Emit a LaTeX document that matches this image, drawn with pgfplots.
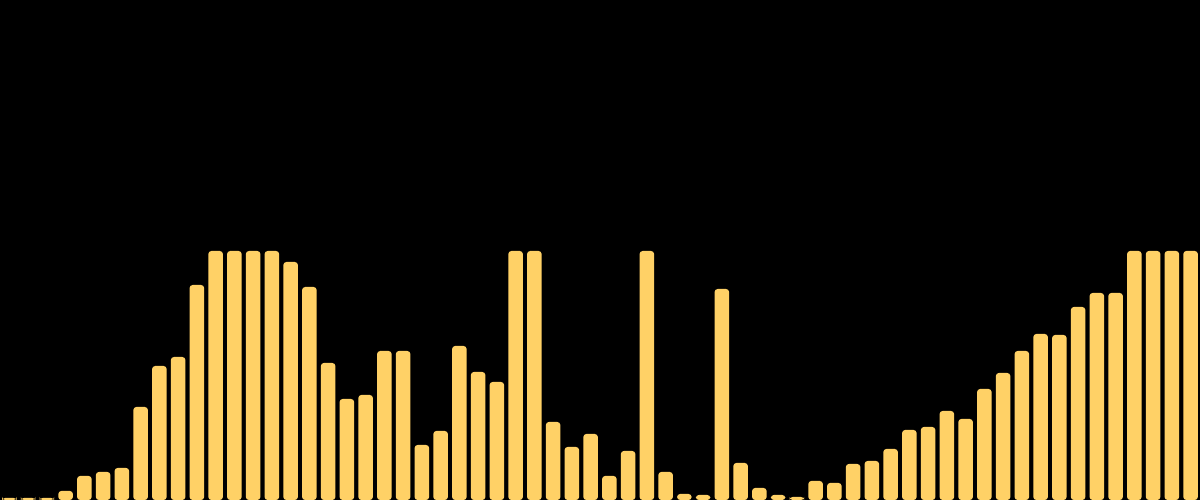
\documentclass[border=0pt]{standalone}
\usepackage{pgfplots}
\usepackage{pgfplotstable}
\pgfplotsset{compat=1.18}
\definecolor{baryellow}{RGB}{255,209,102}
\pgfplotstableread{
i h
0 2
1 2
2 2
3 9
4 24
5 28
6 32
7 93
8 134
9 143
10 215
11 249
12 249
13 249
14 249
15 238
16 213
17 137
18 101
19 105
20 149
21 149
22 55
23 69
24 154
25 128
26 118
27 249
28 249
29 78
30 53
31 66
32 24
33 49
34 249
35 28
36 6
37 5
38 211
39 37
40 12
41 5
42 3
43 19
44 17
45 36
46 39
47 51
48 70
49 73
50 89
51 81
52 111
53 127
54 149
55 166
56 165
57 193
58 207
59 207
60 249
61 249
62 249
63 249
}\datatable
\begin{document}
\begin{tikzpicture}
\fill[black] (0,0) rectangle (12,5);
\useasboundingbox (0,0) rectangle (12,5);
\begin{axis}[
  at={(0,0)}, anchor=south west,
  width=12cm, height=5cm, scale only axis,
  hide axis,
  xmin=-0.5, xmax=63.5,
  ymin=8, ymax=508,
  clip=true,
  ybar, bar width=0.145cm,
]
\addplot[fill=baryellow, draw=none, rounded corners=0.3mm]
  table[x=i, y expr=\thisrow{h}+8] {\datatable};
\end{axis}
\end{tikzpicture}
\end{document}
